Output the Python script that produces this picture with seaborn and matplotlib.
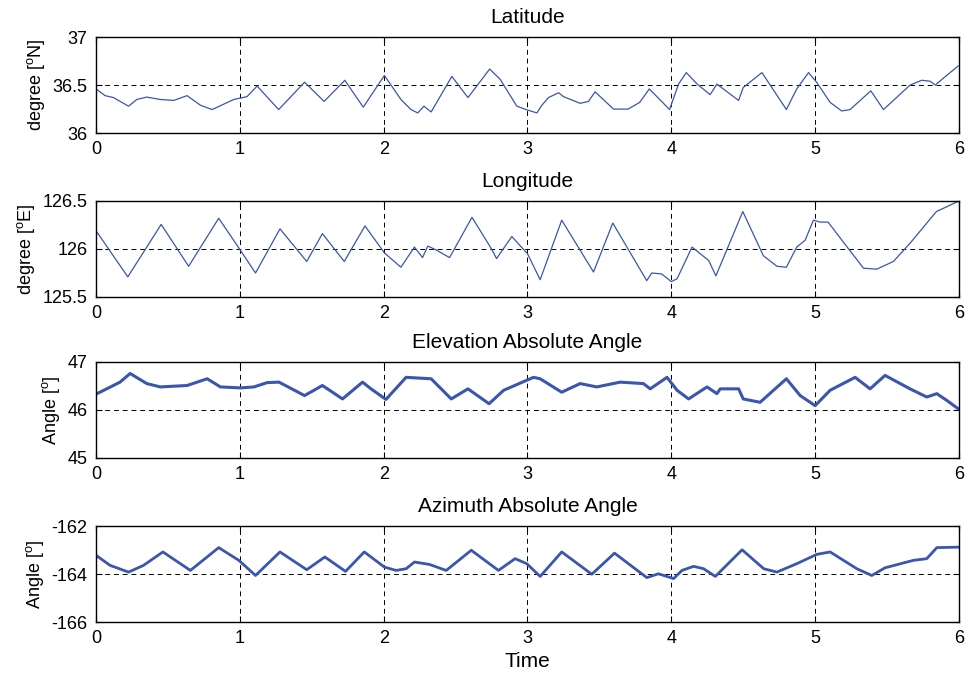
import matplotlib
matplotlib.use("Agg")
import matplotlib.pyplot as plt
import seaborn as sns
import numpy as np

# values (time, value)
lat_t = [0.0, 0.063, 0.121, 0.226, 0.284, 0.353, 0.447, 0.54, 0.633, 0.726, 0.807, 0.958, 1.05, 1.12,
         1.27, 1.45, 1.586, 1.73, 1.858, 2.005, 2.12, 2.19, 2.237, 2.28, 2.33, 2.474, 2.586, 2.737,
         2.81, 2.926, 3.0, 3.065, 3.1, 3.146, 3.216, 3.25, 3.366, 3.424, 3.47, 3.598, 3.70, 3.78,
         3.847, 3.988, 4.05, 4.104, 4.18, 4.27, 4.317, 4.468, 4.50, 4.63, 4.80, 4.872, 4.954, 5.01,
         5.104, 5.185, 5.243, 5.387, 5.475, 5.66, 5.741, 5.80, 5.835, 5.89, 5.995]
lat_v = [36.46, 36.39, 36.37, 36.28, 36.35, 36.375, 36.35, 36.34, 36.39, 36.29, 36.245, 36.35, 36.38,
         36.49, 36.245, 36.53, 36.33, 36.55, 36.27, 36.60, 36.35, 36.245, 36.21, 36.28, 36.22, 36.59,
         36.37, 36.667, 36.56, 36.28, 36.24, 36.21, 36.29, 36.37, 36.42, 36.38, 36.31, 36.33, 36.43,
         36.25, 36.25, 36.32, 36.46, 36.245, 36.51, 36.63, 36.51, 36.40, 36.51, 36.34, 36.475, 36.63,
         36.245, 36.46, 36.63, 36.53, 36.32, 36.23, 36.245, 36.44, 36.245, 36.50, 36.55, 36.54, 36.50,
         36.57, 36.70]

lon_t = [0.0, 0.221, 0.453, 0.644, 0.853, 0.98, 1.109, 1.279, 1.465, 1.574, 1.726, 1.87, 2.005, 2.12,
         2.214, 2.27, 2.307, 2.365, 2.458, 2.614, 2.75, 2.785, 2.891, 3.0, 3.088, 3.238, 3.459, 3.593,
         3.829, 3.864, 3.933, 4.0, 4.04, 4.144, 4.26, 4.31, 4.497, 4.64, 4.734, 4.80, 4.872, 4.93,
         4.988, 5.035, 5.09, 5.197, 5.336, 5.428, 5.544, 5.66, 5.843, 5.915, 6.0]
lon_v = [126.19, 125.71, 126.256, 125.82, 126.32, 126.04, 125.75, 126.21, 125.87, 126.16, 125.87,
         126.24, 125.96, 125.81, 126.02, 125.91, 126.03, 125.99, 125.91, 126.33, 126.0, 125.90, 126.13,
         125.95, 125.68, 126.30, 125.76, 126.27, 125.67, 125.75, 125.74, 125.66, 125.69, 126.02, 125.88,
         125.72, 126.39, 125.93, 125.82, 125.81, 126.02, 126.09, 126.30, 126.28, 126.28, 126.07, 125.80,
         125.79, 125.87, 126.06, 126.39, 126.44, 126.50]

elev_t = [0.0, 0.074, 0.167, 0.237, 0.353, 0.447, 0.633, 0.773, 0.865, 1.005, 1.098, 1.19, 1.272, 1.45,
          1.574, 1.714, 1.853, 1.912, 2.016, 2.156, 2.33, 2.47, 2.586, 2.733, 2.834, 3.042, 3.088,
          3.238, 3.366, 3.482, 3.644, 3.806, 3.853, 3.97, 4.04, 4.12, 4.248, 4.317, 4.34, 4.468, 4.50,
          4.617, 4.80, 4.896, 5.0, 5.104, 5.278, 5.382, 5.486, 5.66, 5.776, 5.846, 5.915, 5.997]
elev_v = [46.33, 46.44, 46.58, 46.76, 46.55, 46.48, 46.51, 46.65, 46.48, 46.46, 46.48, 46.57, 46.58,
          46.30, 46.51, 46.23, 46.58, 46.44, 46.22, 46.68, 46.65, 46.23, 46.44, 46.13, 46.41, 46.68,
          46.65, 46.37, 46.55, 46.48, 46.58, 46.55, 46.44, 46.68, 46.41, 46.23, 46.48, 46.34, 46.44,
          46.44, 46.23, 46.16, 46.65, 46.30, 46.09, 46.41, 46.68, 46.44, 46.72, 46.44, 46.27, 46.34,
          46.20, 46.02]

azi_t = [0.0, 0.098, 0.226, 0.33, 0.465, 0.656, 0.853, 0.993, 1.109, 1.279, 1.465, 1.591, 1.735, 1.865,
         2.005, 2.086, 2.156, 2.214, 2.318, 2.435, 2.609, 2.798, 2.914, 2.995, 3.088, 3.238, 3.447,
         3.605, 3.83, 3.91, 4.016, 4.074, 4.155, 4.225, 4.306, 4.492, 4.643, 4.734, 4.872, 5.012, 5.104,
         5.29, 5.394, 5.486, 5.683, 5.776, 5.846, 5.997]
azi_v = [-163.22, -163.64, -163.92, -163.64, -163.08, -163.85, -162.90, -163.43, -164.06, -163.08,
         -163.82, -163.29, -163.89, -163.08, -163.71, -163.85, -163.78, -163.50, -163.60, -163.85,
         -163.01, -163.85, -163.36, -163.57, -164.10, -163.08, -164.01, -163.13, -164.15, -163.99,
         -164.19, -163.85, -163.68, -163.78, -164.10, -162.99, -163.78, -163.92, -163.57, -163.18,
         -163.08, -163.78, -164.06, -163.74, -163.43, -163.36, -162.90, -162.88]

titles = ["Latitude", "Longitude", "Elevation Absolute Angle", "Azimuth Absolute Angle"]
ylabels = ["degree [$^{o}$N]", "degree [$^{o}$E]", "Angle [$^{o}$]", "Angle [$^{o}$]"]
yticks = [[36, 36.5, 37], [125.5, 126, 126.5], [45, 46, 47], [-166, -164, -162]]
ytick_labels = [["36", "36.5", "37"], ["125.5", "126", "126.5"], ["45", "46", "47"],
                ["-166", "-164", "-162"]]
xticks = [0, 1, 2, 3, 4, 5, 6]

sns.set_style("white")
plt.rcParams['font.family'] = ['Liberation Sans', 'DejaVu Sans']
plt.rcParams['mathtext.default'] = 'regular'
for key in ['text.color', 'axes.labelcolor', 'xtick.color', 'ytick.color']:
    plt.rcParams[key] = 'black'

fig = plt.figure(figsize=(9.67, 6.79), dpi=100)
bottoms = [0.804, 0.5626, 0.3255, 0.0839]
series = [(lat_t, lat_v, 0.9), (lon_t, lon_v, 0.9), (elev_t, elev_v, 2.2), (azi_t, azi_v, 2.0)]

for i, (t, v, lw) in enumerate(series):
    ax = fig.add_axes([0.0993, bottoms[i], 0.8924, 0.1414])
    sns.lineplot(x=t, y=v, ax=ax, color="#3a56ad", lw=lw, estimator=None)
    ax.set_xlim(0, 6)
    ax.set_ylim(yticks[i][0], yticks[i][-1])
    ax.set_xticks(xticks)
    ax.set_xticklabels([str(x) for x in xticks])
    ax.set_yticks(yticks[i])
    ax.set_yticklabels(ytick_labels[i])
    ax.grid(True, color="black", linestyle=(0, (5, 4)), lw=0.7)
    ax.tick_params(direction="in", length=4, width=0.8, labelsize=13, pad=6, color="black",
                   labelcolor="black", top=True, right=True, bottom=True, left=True)
    for s in ax.spines.values():
        s.set_visible(True)
        s.set_color("black")
        s.set_linewidth(1.0)
    ax.set_title(titles[i], fontsize=15, pad=10, color="black")
    ax.set_ylabel(ylabels[i], fontsize=13, labelpad=4, color="black")

ax.set_xlabel("Time", fontsize=15, labelpad=3, color="black")

fig.savefig("out.png", dpi=100)
